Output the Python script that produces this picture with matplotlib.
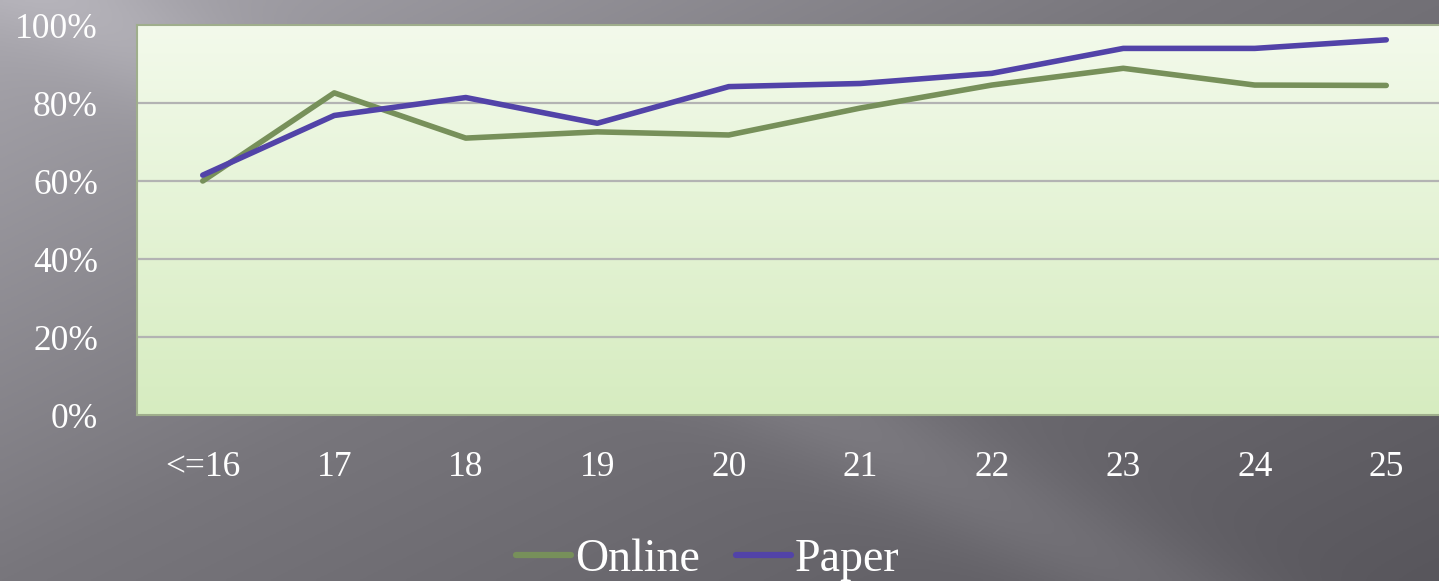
import numpy as np
import matplotlib
matplotlib.use("Agg")
import matplotlib.pyplot as plt
from matplotlib.colors import LinearSegmentedColormap

categories = ["<=16", "17", "18", "19", "20", "21", "22", "23", "24", "25"]
online = [60.0, 82.6, 71.0, 72.6, 71.8, 78.7, 84.6, 88.9, 84.6, 84.5]
paper = [61.5, 76.8, 81.4, 74.8, 84.2, 85.0, 87.6, 94.0, 94.0, 96.2]
yticks = [0, 20, 40, 60, 80, 100]
ytick_labels = ["0%", "20%", "40%", "60%", "80%", "100%"]

plt.rcParams['font.family'] = ['Liberation Serif', 'DejaVu Serif']

W, H = 1439, 581
fig = plt.figure(figsize=(W / 100, H / 100), dpi=100)

# background gradient (lighter top-left, darker right)
bg = fig.add_axes([0, 0, 1, 1], zorder=-10)
yy, xx = np.mgrid[0:1:200j, 0:1:400j]
t = np.clip(0.55 * xx + 0.45 * yy, 0, 1)
streak = 0.06 * np.exp(-((xx * 1.2 + yy * -0.9 - 0.05) ** 2) / 0.01)
c0 = np.array([168, 166, 173]) / 255
c1 = np.array([120, 118, 124]) / 255
c2 = np.array([88, 86, 92]) / 255
img = np.where(t[..., None] < 0.45,
               c0 + (c1 - c0) * (t[..., None] / 0.45),
               c1 + (c2 - c1) * ((t[..., None] - 0.45) / 0.55))
img = np.clip(img + streak[..., None], 0, 1)
bg.imshow(img, aspect='auto', extent=[0, 1, 0, 1], origin='upper')
bg.set_axis_off()

left, right, top, bottom = 137, 1452, 25, 415

# soft shadow behind plot area
shadow = fig.add_axes([(left - 4) / W, (H - bottom - 4) / H,
                       (right - left) / W, (bottom - top) / H], zorder=-5)
shadow.set_facecolor('#4a484e')
shadow.set_alpha(0.6)
shadow.set_axis_off()
shadow.patch.set_visible(True)
shadow.patch.set_alpha(0.5)

ax = fig.add_axes([left / W, (H - bottom) / H, (right - left) / W, (bottom - top) / H])

x = np.arange(len(categories))
ax.set_xlim(-0.5, len(categories) - 0.5)
ax.set_ylim(0, 100)

# plot area gradient (light top, greener bottom)
grad = LinearSegmentedColormap.from_list("g", ["#f3faeb", "#d6ecc0"])
ax.imshow(np.linspace(0, 1, 256)[:, None], cmap=grad, aspect='auto',
          extent=[-0.5, len(categories) - 0.5, 0, 100], origin='upper', zorder=0)

for yv in yticks[1:-1]:
    ax.axhline(yv, color='#b3b3b3', lw=1.6, zorder=1)

ax.plot(x, online, color='#77905a', lw=4.0, solid_capstyle='round',
        solid_joinstyle='round', label='Online', zorder=3)
ax.plot(x, paper, color='#5243a8', lw=4.0, solid_capstyle='round',
        solid_joinstyle='round', label='Paper', zorder=4)

for s in ax.spines.values():
    s.set_color('#9fae8c')
    s.set_linewidth(1.5)

ax.set_xticks(x)
ax.set_xticklabels(categories)
ax.set_yticks(yticks)
ax.set_yticklabels(ytick_labels)
ax.tick_params(axis='both', length=0, colors='white', labelsize=25.5)
ax.tick_params(axis='y', pad=28)
ax.tick_params(axis='x', pad=26)

leg = fig.legend(loc='center', bbox_to_anchor=(708 / W, 1 - 560 / H), ncol=2,
                 frameon=False, fontsize=33, handlelength=1.2,
                 handletextpad=0.08, columnspacing=0.8)
for txt in leg.get_texts():
    txt.set_color('white')
for ln in leg.get_lines():
    ln.set_linewidth(4.5)

fig.savefig("out.png", dpi=100)
